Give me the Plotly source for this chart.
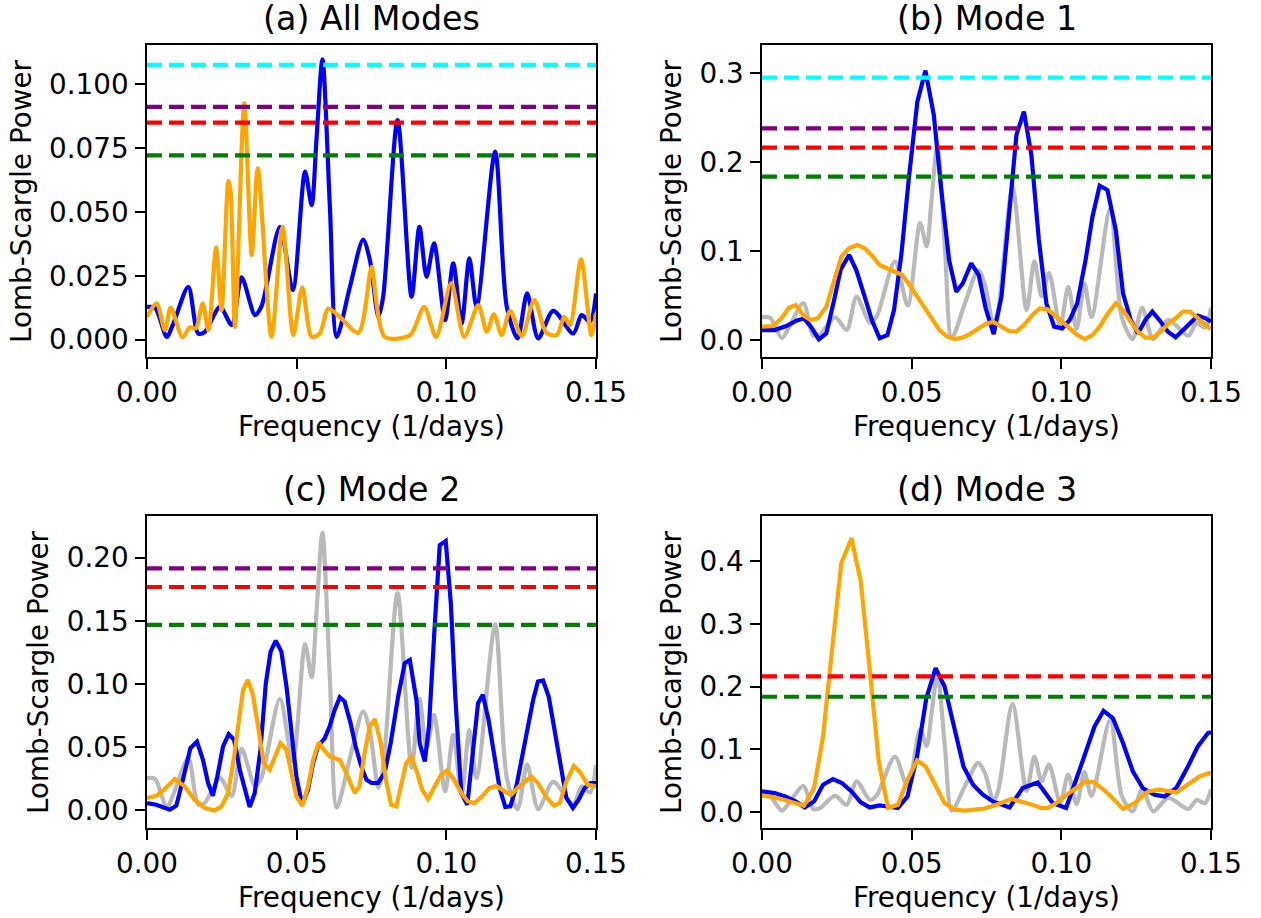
import plotly.graph_objects as go

W, H = 1261, 918

# ---------------- data ----------------
# (a) All Modes
a_blue_x = [0.0, 0.0027, 0.0066, 0.0088, 0.0138, 0.0171, 0.0193, 0.0244, 0.0283, 0.0316,
            0.0361, 0.0383, 0.0444, 0.0487, 0.0528, 0.055, 0.0566, 0.0586, 0.0611, 0.0634,
            0.0678, 0.0722, 0.0745, 0.0773, 0.0789, 0.0837, 0.0884, 0.091, 0.0934, 0.0959,
            0.0996, 0.1023, 0.1051, 0.1077, 0.1101, 0.1163, 0.1202, 0.1238, 0.127, 0.1307,
            0.1357, 0.1424, 0.1452, 0.148, 0.15]
a_blue_y = [0.0128, 0.0125, 0.0011, 0.0063, 0.0207, 0.0024, 0.003, 0.0128, 0.0057, 0.0244,
            0.0096, 0.0132, 0.0442, 0.0194, 0.0658, 0.0527, 0.078, 0.1098, 0.052, 0.0011,
            0.0207, 0.0392, 0.031, 0.0089, 0.0168, 0.086, 0.0168, 0.0442, 0.0246, 0.0377,
            0.0076, 0.0299, 0.0063, 0.0318, 0.0128, 0.0736, 0.0128, 0.0005, 0.0181, 0.0005,
            0.0113, 0.0024, 0.0096, 0.007, 0.0181]

a_orange_x = [0.0, 0.0032, 0.006, 0.0079, 0.0119, 0.0143, 0.0163, 0.0186, 0.0205, 0.0231,
              0.0249, 0.0272, 0.0279, 0.0294, 0.0325, 0.035, 0.037, 0.0416, 0.0453, 0.0489,
              0.0519, 0.055, 0.0577, 0.0606, 0.0644, 0.0706, 0.0745, 0.0751, 0.0795, 0.0879,
              0.0926, 0.0966, 0.1016, 0.106, 0.1107, 0.1135, 0.1159, 0.1185, 0.1213, 0.1252,
              0.1294, 0.1334, 0.1369, 0.1394, 0.1413, 0.145, 0.1485, 0.15]
a_orange_y = [0.0089, 0.0142, 0.0037, 0.0125, 0.0009, 0.0048, 0.0044, 0.0142, 0.0037, 0.0361,
              0.0116, 0.0622, 0.0586, 0.005, 0.0926, 0.0331, 0.0671, 0.0011, 0.0442, 0.0018,
              0.0205, 0.0011, 0.0024, 0.0122, 0.0089, 0.0027, 0.026, 0.0285, 0.0011, 0.0018,
              0.0128, 0.0011, 0.022, 0.0011, 0.0135, 0.0031, 0.0099, 0.0018, 0.0113, 0.0014,
              0.0155, 0.0027, 0.0018, 0.0089, 0.0057, 0.0314, 0.0018, 0.0103]

# grey reference curve (all modes, shown in b, c, d)
gray_x = [0.0, 0.0027, 0.0066, 0.0088, 0.0138, 0.0171, 0.0193, 0.0244, 0.0283, 0.0316,
          0.0361, 0.0383, 0.0444, 0.0487, 0.0528, 0.055, 0.0566, 0.0586, 0.0611, 0.0634,
          0.0678, 0.0722, 0.0745, 0.0773, 0.0789, 0.0837, 0.0884, 0.091, 0.0934, 0.0959,
          0.0996, 0.1023, 0.1051, 0.1077, 0.1101, 0.1163, 0.1202, 0.1238, 0.127, 0.1307,
          0.1357, 0.1424, 0.1452, 0.148, 0.15]
gray_y = [0.0256, 0.025, 0.0022, 0.0126, 0.0414, 0.0048, 0.006, 0.0256, 0.0114, 0.0488,
          0.0192, 0.0264, 0.0884, 0.0388, 0.1316, 0.1054, 0.156, 0.2196, 0.104, 0.0022,
          0.0414, 0.0784, 0.062, 0.0178, 0.0336, 0.172, 0.0336, 0.0884, 0.0492, 0.0754,
          0.0152, 0.0598, 0.0126, 0.0636, 0.0256, 0.1472, 0.0256, 0.001, 0.0362, 0.001,
          0.0226, 0.0048, 0.0192, 0.014, 0.0362]

# (b) Mode 1
b_blue_x = [0.0, 0.0042, 0.0081, 0.0115, 0.014, 0.0165, 0.019, 0.0215, 0.0241, 0.0263,
            0.0291, 0.0315, 0.0343, 0.0367, 0.0393, 0.0419, 0.0441, 0.0466, 0.049, 0.0519,
            0.0546, 0.0574, 0.0599, 0.0625, 0.0649, 0.0671, 0.0699, 0.0724, 0.0747, 0.0774,
            0.08, 0.0825, 0.085, 0.0875, 0.09, 0.0925, 0.095, 0.0976, 0.1003, 0.1028,
            0.1053, 0.1081, 0.1104, 0.1128, 0.1154, 0.1182, 0.1206, 0.1232, 0.1256, 0.1281,
            0.1304, 0.1332, 0.1356, 0.1382, 0.1406, 0.1434, 0.1456, 0.1482, 0.15]
b_blue_y = [0.0112, 0.0112, 0.0157, 0.0217, 0.0244, 0.0143, 0.0008, 0.0075, 0.045, 0.0795,
            0.0956, 0.0787, 0.0487, 0.0225, 0.0019, 0.0056, 0.0337, 0.0975, 0.18, 0.268,
            0.303, 0.253, 0.1687, 0.09, 0.0543, 0.0638, 0.0863, 0.0731, 0.036, 0.0067,
            0.0487, 0.135, 0.2306, 0.2568, 0.208, 0.1125, 0.0413, 0.015, 0.0131, 0.0225,
            0.0413, 0.09, 0.1387, 0.1736, 0.1687, 0.1237, 0.0525, 0.0225, 0.0075, 0.0225,
            0.0319, 0.0206, 0.0094, 0.003, 0.0105, 0.0206, 0.0273, 0.0244, 0.0206]

b_orange_x = [0.0, 0.0037, 0.0065, 0.009, 0.0113, 0.014, 0.0163, 0.0187, 0.0215, 0.0241,
              0.0265, 0.0291, 0.0319, 0.0343, 0.0369, 0.0393, 0.0419, 0.0443, 0.0469, 0.0493,
              0.0518, 0.0544, 0.0569, 0.0594, 0.0619, 0.0644, 0.0669, 0.0694, 0.072, 0.0747,
              0.0772, 0.08, 0.0825, 0.085, 0.0875, 0.0903, 0.0928, 0.0954, 0.0978, 0.1003,
              0.1028, 0.1053, 0.1078, 0.1104, 0.1128, 0.1154, 0.1182, 0.1206, 0.1232, 0.1256,
              0.1281, 0.1306, 0.1332, 0.1356, 0.1382, 0.1406, 0.143, 0.1456, 0.1482, 0.15]
b_orange_y = [0.015, 0.0157, 0.0244, 0.0363, 0.0394, 0.027, 0.0225, 0.0244, 0.0375, 0.0675,
              0.0937, 0.1031, 0.1069, 0.1031, 0.0945, 0.0844, 0.0806, 0.0776, 0.0731, 0.0619,
              0.0487, 0.0356, 0.0225, 0.0105, 0.0037, 0.0011, 0.0026, 0.0067, 0.0124, 0.0178,
              0.0206, 0.0157, 0.0101, 0.0094, 0.0169, 0.0281, 0.0356, 0.0345, 0.0281, 0.0206,
              0.0131, 0.0056, 0.0011, 0.0056, 0.015, 0.0292, 0.0413, 0.0337, 0.0206, 0.0094,
              0.0026, 0.0026, 0.0094, 0.018, 0.0244, 0.0319, 0.0319, 0.0244, 0.0169, 0.012]

# (c) Mode 2
c_blue_x = [0.0, 0.0031, 0.0076, 0.0098, 0.012, 0.0145, 0.0167, 0.0187, 0.0204, 0.022,
            0.0235, 0.0254, 0.0273, 0.0291, 0.031, 0.0326, 0.0343, 0.036, 0.0379, 0.0397,
            0.0413, 0.043, 0.0449, 0.0466, 0.0482, 0.0499, 0.0518, 0.0538, 0.0555, 0.0571,
            0.0594, 0.061, 0.0627, 0.0644, 0.066, 0.068, 0.0697, 0.0716, 0.0733, 0.075,
            0.0772, 0.0794, 0.0814, 0.0839, 0.0861, 0.0878, 0.09, 0.0911, 0.0928, 0.0942,
            0.0961, 0.0978, 0.0998, 0.1015, 0.103, 0.105, 0.107, 0.1089, 0.1106, 0.1122,
            0.1141, 0.1159, 0.1178, 0.1197, 0.1214, 0.1234, 0.1253, 0.1273, 0.129, 0.1306,
            0.1323, 0.1342, 0.1362, 0.1382, 0.1401, 0.1423, 0.1442, 0.1462, 0.1482, 0.15]
c_blue_y = [0.0058, 0.0045, 0.0006, 0.0037, 0.0243, 0.0493, 0.0545, 0.04, 0.0217, 0.0116,
            0.0269, 0.0506, 0.0604, 0.0559, 0.0322, 0.0164, 0.0027, 0.0138, 0.048, 0.1007,
            0.1257, 0.1344, 0.1257, 0.098, 0.0612, 0.0269, 0.0045, 0.0164, 0.0375, 0.0506,
            0.0572, 0.0664, 0.0796, 0.0896, 0.0862, 0.0691, 0.0506, 0.0348, 0.0243, 0.0217,
            0.0217, 0.0296, 0.0533, 0.0901, 0.1165, 0.1191, 0.0875, 0.0533, 0.0387, 0.0664,
            0.1455, 0.21, 0.2132, 0.164, 0.0901, 0.0138, 0.0045, 0.048, 0.0849, 0.0915,
            0.0717, 0.0454, 0.0177, 0.0027, 0.0032, 0.019, 0.0427, 0.0664, 0.0875, 0.102,
            0.1028, 0.0901, 0.0638, 0.0375, 0.0098, 0.0019, 0.0085, 0.0177, 0.0217, 0.0217]

c_orange_x = [0.0, 0.0031, 0.0059, 0.0093, 0.0126, 0.0159, 0.0193, 0.0226, 0.0249, 0.0271,
              0.0291, 0.0307, 0.0321, 0.0337, 0.0354, 0.0371, 0.039, 0.041, 0.0427, 0.0446,
              0.0466, 0.0482, 0.0499, 0.0519, 0.0538, 0.0555, 0.0574, 0.0591, 0.061, 0.0644,
              0.0666, 0.0694, 0.071, 0.0727, 0.0744, 0.0761, 0.0781, 0.08, 0.0816, 0.0833,
              0.085, 0.0866, 0.0883, 0.0903, 0.0919, 0.0939, 0.0961, 0.0983, 0.1003, 0.1026,
              0.105, 0.1072, 0.1094, 0.1117, 0.1144, 0.1167, 0.1195, 0.1217, 0.1245, 0.1284,
              0.1306, 0.1334, 0.136, 0.1379, 0.1401, 0.1426, 0.1449, 0.1472, 0.15]
c_orange_y = [0.0098, 0.0116, 0.0169, 0.0248, 0.019, 0.0085, 0.0019, 0.0, 0.0032, 0.0138,
              0.0427, 0.0691, 0.0954, 0.1033, 0.0915, 0.0664, 0.0375, 0.0322, 0.0427, 0.0533,
              0.048, 0.0296, 0.0111, 0.0037, 0.019, 0.04, 0.0538, 0.048, 0.0427, 0.04,
              0.0296, 0.0138, 0.019, 0.0454, 0.0664, 0.0723, 0.0533, 0.0217, 0.0045, 0.0032,
              0.0217, 0.0375, 0.0422, 0.0296, 0.0164, 0.009, 0.019, 0.0282, 0.0316, 0.0243,
              0.0138, 0.0071, 0.0058, 0.0106, 0.0177, 0.0195, 0.015, 0.0124, 0.0195, 0.0269,
              0.0217, 0.0106, 0.0037, 0.0058, 0.0229, 0.0353, 0.0296, 0.0203, 0.019]

# (d) Mode 3
d_blue_x = [0.0, 0.0042, 0.0078, 0.0112, 0.0143, 0.0174, 0.0204, 0.0237, 0.0267, 0.0299,
            0.033, 0.036, 0.0393, 0.0423, 0.0454, 0.0486, 0.0518, 0.0549, 0.058, 0.061,
            0.0641, 0.0673, 0.0705, 0.0738, 0.0771, 0.0827, 0.0871, 0.0921, 0.0971, 0.1016,
            0.1061, 0.1111, 0.1141, 0.1172, 0.1206, 0.1239, 0.1272, 0.1311, 0.1345, 0.1384,
            0.1423, 0.1456, 0.149, 0.15]
d_blue_y = [0.0328, 0.0302, 0.0248, 0.0169, 0.0073, 0.0169, 0.0435, 0.0525, 0.0462, 0.0328,
            0.0153, 0.0073, 0.0105, 0.0089, 0.0064, 0.0248, 0.0885, 0.1815, 0.2293, 0.2,
            0.1363, 0.0726, 0.0435, 0.0275, 0.0169, 0.0073, 0.0382, 0.0471, 0.0143, 0.0064,
            0.0674, 0.1363, 0.1613, 0.1497, 0.1099, 0.0647, 0.0382, 0.0275, 0.0248, 0.0382,
            0.0726, 0.1045, 0.1258, 0.127]

d_orange_x = [0.0, 0.0037, 0.0073, 0.0107, 0.014, 0.0174, 0.0204, 0.0234, 0.0265, 0.0299,
              0.033, 0.036, 0.039, 0.0421, 0.0454, 0.0486, 0.0518, 0.0547, 0.058, 0.061,
              0.0644, 0.0677, 0.071, 0.0744, 0.0783, 0.0833, 0.0883, 0.0933, 0.0955, 0.0983,
              0.1033, 0.1081, 0.1111, 0.1161, 0.1206, 0.1245, 0.129, 0.1328, 0.1384, 0.1423,
              0.1462, 0.1493, 0.15]
d_orange_y = [0.026, 0.0239, 0.0196, 0.0143, 0.01, 0.0382, 0.1204, 0.2584, 0.3965, 0.4363,
              0.3672, 0.2266, 0.0806, 0.0064, 0.0116, 0.0514, 0.0822, 0.0726, 0.0408, 0.0143,
              0.0037, 0.0021, 0.0037, 0.0055, 0.0116, 0.0207, 0.0143, 0.0064, 0.0064, 0.0143,
              0.0328, 0.0487, 0.0471, 0.0275, 0.0048, 0.0143, 0.0328, 0.0355, 0.0312, 0.0435,
              0.0567, 0.0621, 0.06]

# significance thresholds (value, colour) per panel
a_thresholds = [0.1076, 0.0912, 0.0850, 0.0722]
a_threshold_colors = ["#00ffff", "#800080", "#ff0000", "#008000"]
b_thresholds = [0.295, 0.238, 0.2163, 0.1837]
b_threshold_colors = ["#00ffff", "#800080", "#ff0000", "#008000"]
c_thresholds = [0.1916, 0.1768, 0.1468]
c_threshold_colors = ["#800080", "#ff0000", "#008000"]
d_thresholds = [0.2163, 0.1837]
d_threshold_colors = ["#ff0000", "#008000"]

titles = ["(a) All Modes", "(b) Mode 1", "(c) Mode 2", "(d) Mode 3"]
x_ticks = [0.0, 0.05, 0.10, 0.15]
y_ticks = [[0.0, 0.025, 0.05, 0.075, 0.1],
           [0.0, 0.1, 0.2, 0.3],
           [0.0, 0.05, 0.10, 0.15, 0.20],
           [0.0, 0.1, 0.2, 0.3, 0.4]]
y_formats = [".3f", ".1f", ".2f", ".1f"]
y_ranges = [[-0.0068, 0.1154], [-0.0191, 0.3318], [-0.0139, 0.233], [-0.0255, 0.4718]]
x_range = [0.0, 0.15]

# ---------------- layout geometry (pixels) ----------------
boxes = [  # (left, right, top, bottom)
    (147, 596, 45, 357),
    (762, 1211, 45, 357),
    (147, 596, 516, 828),
    (762, 1211, 516, 828),
]
ylabel_x = [21, 671, 38, 671]

FONT = "DejaVu Sans"
LW = 4.2
DASH = "15px,7px"

fig = go.Figure()


def axname(i):
    return ("x" if i == 0 else f"x{i+1}", "y" if i == 0 else f"y{i+1}")


def add_line(i, xs, ys, color, spline=False, opacity=1.0):
    xa, ya = axname(i)
    fig.add_trace(go.Scatter(
        x=xs, y=ys, mode="lines", xaxis=xa, yaxis=ya, opacity=opacity,
        line=dict(color=color, width=LW, shape="spline" if spline else "linear",
                  smoothing=0.8 if spline else None),
        showlegend=False, hoverinfo="skip"))


def add_thresholds(i, vals, cols):
    xa, ya = axname(i)
    for v, c in zip(vals, cols):
        fig.add_trace(go.Scatter(
            x=[x_range[0], x_range[1]], y=[v, v], mode="lines", xaxis=xa, yaxis=ya,
            line=dict(color=c, width=LW, dash=DASH), showlegend=False, hoverinfo="skip"))


GRAY = "rgb(128,128,128)"

# (a)
add_line(0, a_blue_x, a_blue_y, "#0000ff", spline=True)
add_line(0, a_orange_x, a_orange_y, "#ffa500", spline=True)
add_thresholds(0, a_thresholds, a_threshold_colors)
# (b)
add_line(1, gray_x, gray_y, GRAY, spline=True, opacity=0.55)
add_line(1, b_blue_x, b_blue_y, "#0000ff")
add_line(1, b_orange_x, b_orange_y, "#ffa500")
add_thresholds(1, b_thresholds, b_threshold_colors)
# (c)
add_line(2, gray_x, gray_y, GRAY, spline=True, opacity=0.55)
add_line(2, c_blue_x, c_blue_y, "#0000ff")
add_line(2, c_orange_x, c_orange_y, "#ffa500")
add_thresholds(2, c_thresholds, c_threshold_colors)
# (d)
add_line(3, gray_x, gray_y, GRAY, spline=True, opacity=0.55)
add_line(3, d_blue_x, d_blue_y, "#0000ff")
add_line(3, d_orange_x, d_orange_y, "#ffa500")
add_thresholds(3, d_thresholds, d_threshold_colors)

layout = dict(
    width=W, height=H, margin=dict(l=0, r=0, t=0, b=0, pad=0, autoexpand=False),
    paper_bgcolor="white", plot_bgcolor="white",
    font=dict(family=FONT, color="black", size=27.8),
    showlegend=False,
)

annotations = []
for i, (l, r, t, b) in enumerate(boxes):
    xa, ya = axname(i)
    xkey = "xaxis" if i == 0 else f"xaxis{i+1}"
    ykey = "yaxis" if i == 0 else f"yaxis{i+1}"
    common = dict(showline=True, linecolor="black", linewidth=2.2, mirror=True,
                  ticks="outside", ticklen=9.7, tickwidth=2.2, tickcolor="black",
                  showgrid=False, zeroline=False, automargin=False,
                  tickfont=dict(family=FONT, size=27.8, color="black"))
    layout[xkey] = dict(domain=[l / W, r / W], anchor=ya, range=x_range,
                        tickvals=x_ticks, tickformat=".2f", ticklabelstandoff=0, **common)
    layout[ykey] = dict(domain=[1 - b / H, 1 - t / H], anchor=xa, range=y_ranges[i],
                        tickvals=y_ticks[i], tickformat=y_formats[i], ticklabelstandoff=1,
                        **common)
    cx = (l + r) / 2
    annotations.append(dict(text=titles[i], xref="paper", yref="paper",
                            x=cx / W, y=1 - (t - 27) / H, xanchor="center", yanchor="middle",
                            showarrow=False, font=dict(family=FONT, size=33.3, color="black")))
    annotations.append(dict(text="Frequency (1/days)", xref="paper", yref="paper",
                            x=cx / W, y=1 - (b + 69) / H, xanchor="center", yanchor="middle",
                            showarrow=False, font=dict(family=FONT, size=27.8, color="black")))
    annotations.append(dict(text="Lomb-Scargle Power", xref="paper", yref="paper",
                            x=ylabel_x[i] / W, y=1 - ((t + b) / 2) / H, xanchor="center",
                            yanchor="middle", textangle=-90, showarrow=False,
                            font=dict(family=FONT, size=27.8, color="black")))
layout["annotations"] = annotations

fig.update_layout(**layout)
fig.write_html("out.html")
